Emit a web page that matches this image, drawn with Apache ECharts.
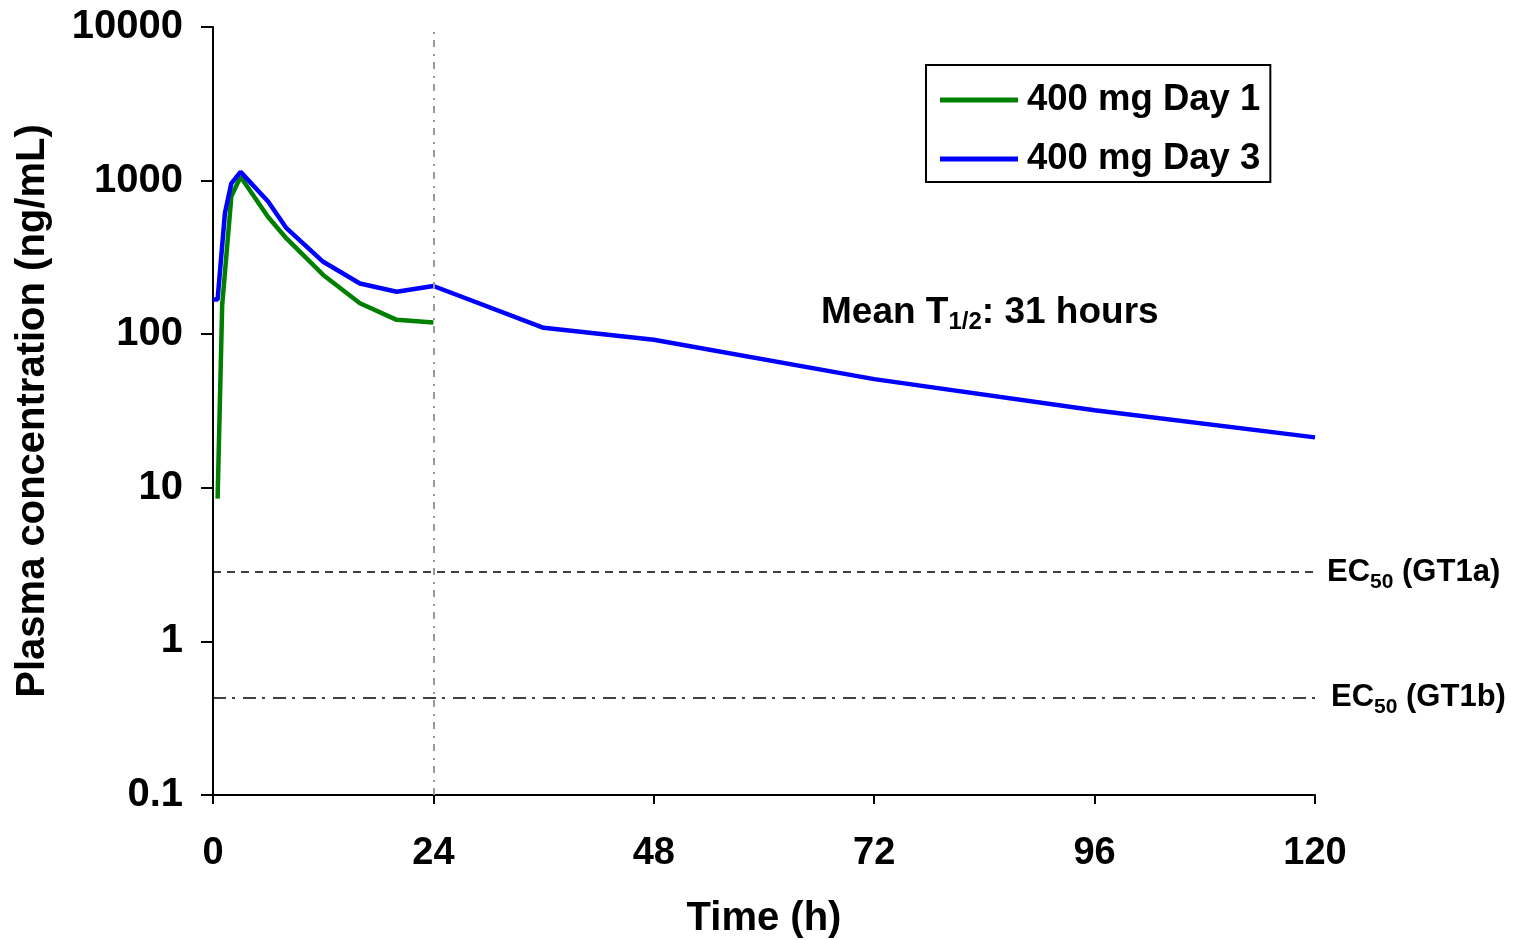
<!DOCTYPE html>
<html>
<head>
<meta charset="utf-8">
<script src="https://cdn.jsdelivr.net/npm/echarts@6/dist/echarts.min.js"></script>
<style>
html, body { margin: 0; padding: 0; background: #fff; }
#chart { width: 1515px; height: 940px; }
</style>
</head>
<body>
<div id="chart"></div>
<script>
// 血药浓度-时间曲线 (log scale)
var day1Time = [0.5, 1, 2, 3, 6, 8, 12, 16, 20, 24];
var day1Conc = [8.5, 155, 790, 1060, 580, 420, 243, 159, 124, 119];

var day3Time = [0, 0.5, 1.3, 2, 3, 6, 8, 12, 16, 20, 24, 36, 48, 72, 96, 120];
var day3Conc = [168, 168, 615, 960, 1140, 730, 490, 296, 214, 189, 206, 110, 92, 51, 32, 21.3];

var xTicks = [0, 24, 48, 72, 96, 120];
var yTickLabels = ['0.1', '1', '10', '100', '1000', '10000'];

var ec50GT1a = 2.83;
var ec50GT1b = 0.435;
var dosingLine = 24;

function pairs(t, c) {
    var out = [];
    for (var i = 0; i < t.length; i++) out.push([t[i], c[i]]);
    return out;
}

var FONT = '"Liberation Sans", Arial, sans-serif';

var ecRich = {
    a: { fontFamily: FONT, fontWeight: 'bold', fontSize: 31, color: '#000' },
    s: { fontFamily: FONT, fontWeight: 'bold', fontSize: 21, color: '#000', padding: [20, 0, 0, 0] }
};

var option = {
    animation: false,
    grid: { left: 213, top: 27, right: 200, bottom: 145, outerBoundsMode: 'none', containLabel: false },
    legend: {
        orient: 'vertical',
        left: 926,
        top: 65,
        padding: [15, 10, 3, 14],
        borderColor: '#000',
        borderWidth: 2,
        itemGap: 19,
        itemWidth: 78,
        itemHeight: 5,
        icon: 'rect',
        textStyle: { fontFamily: FONT, fontWeight: 'bold', fontSize: 36.5, color: '#000', lineHeight: 40, padding: [0, 0, 0, 4] },
        data: ['400 mg Day 1', '400 mg Day 3']
    },
    xAxis: {
        type: 'value',
        min: 0,
        max: 120,
        interval: 24,
        name: 'Time (h)',
        nameLocation: 'middle',
        nameGap: 104,
        nameTextStyle: { fontFamily: FONT, fontWeight: 'bold', fontSize: 40, color: '#000' },
        axisLine: { onZero: false, lineStyle: { color: '#000', width: 2 } },
        axisTick: { length: 9, lineStyle: { color: '#000', width: 2 } },
        axisLabel: {
            margin: 40,
            fontFamily: FONT, fontWeight: 'bold', fontSize: 38, color: '#000',
            formatter: function (v) { return xTicks.indexOf(v) >= 0 ? String(v) : ''; }
        },
        splitLine: { show: false }
    },
    yAxis: {
        type: 'log',
        logBase: 10,
        min: 0.1,
        max: 10000,
        name: 'Plasma concentration (ng/mL)',
        nameLocation: 'middle',
        nameGap: 160,
        nameTextStyle: { fontFamily: FONT, fontWeight: 'bold', fontSize: 40, color: '#000' },
        axisLine: { show: true, lineStyle: { color: '#000', width: 2 } },
        axisTick: { show: true, length: 12, lineStyle: { color: '#000', width: 2 } },
        axisLabel: {
            margin: 30,
            fontFamily: FONT, fontWeight: 'bold', fontSize: 40, color: '#000',
            formatter: function (v) {
                var k = Math.round(Math.log10(v)) + 1;
                return yTickLabels[k] !== undefined ? yTickLabels[k] : '';
            }
        },
        splitLine: { show: false },
        minorTick: { show: false }
    },
    series: [
        {
            name: '400 mg Day 1',
            type: 'line',
            color: '#008000',
            symbol: 'none',
            lineStyle: { width: 4.5, color: '#008000' },
            z: 3,
            data: pairs(day1Time, day1Conc)
        },
        {
            name: '400 mg Day 3',
            type: 'line',
            color: '#0000FF',
            symbol: 'none',
            lineStyle: { width: 4.5, color: '#0000FF' },
            z: 4,
            data: pairs(day3Time, day3Conc),
            markLine: {
                silent: true,
                symbol: 'none',
                animation: false,
                data: [
                    {
                        xAxis: dosingLine,
                        lineStyle: { color: '#999', width: 2, type: [7, 6, 2, 7] },
                        label: { show: false }
                    },
                    {
                        yAxis: ec50GT1a,
                        lineStyle: { color: '#000', width: 1.6, type: [8, 6] },
                        label: {
                            show: true, position: 'end', distance: 12,
                            formatter: '{a|EC}{s|50}{a| (GT1a)}',
                            rich: ecRich
                        }
                    },
                    {
                        yAxis: ec50GT1b,
                        lineStyle: { color: '#000', width: 1.6, type: [13, 6, 3, 8] },
                        label: {
                            show: true, position: 'end', distance: 16,
                            formatter: '{a|EC}{s|50}{a| (GT1b)}',
                            rich: ecRich
                        }
                    }
                ]
            }
        }
    ],
    graphic: [
        {
            type: 'text',
            left: 821,
            top: 294,
            style: {
                text: '{a|Mean T}{s|1/2}{a|: 31 hours}',
                rich: {
                    a: { fontFamily: FONT, fontWeight: 'bold', fontSize: 37, fill: '#000' },
                    s: { fontFamily: FONT, fontWeight: 'bold', fontSize: 24, fill: '#000', padding: [20, 0, 0, 0] }
                }
            }
        }
    ]
};

var myChart = echarts.init(document.getElementById('chart'));
myChart.setOption(option);
</script>
</body>
</html>
